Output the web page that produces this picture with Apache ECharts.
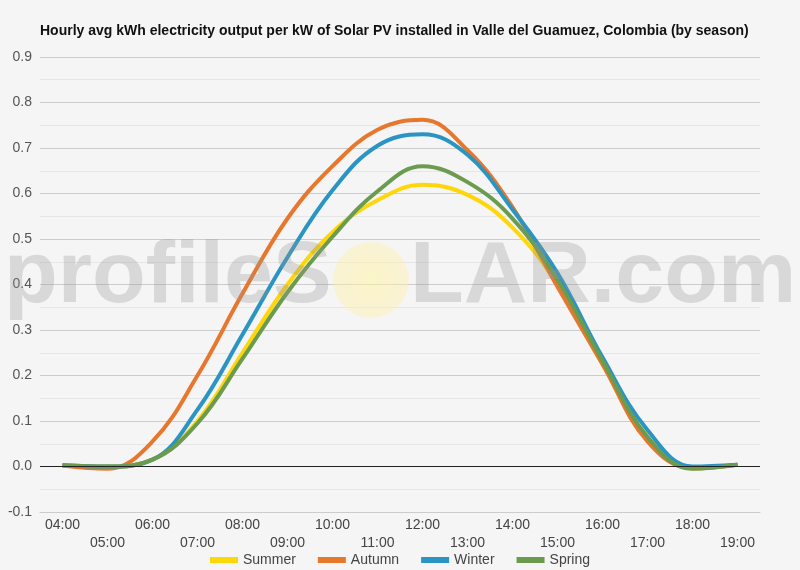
<!DOCTYPE html>
<html>
<head>
<meta charset="utf-8">
<script src="https://cdn.jsdelivr.net/npm/echarts@6/dist/echarts.min.js"></script>
<style>
  html, body { margin: 0; padding: 0; background: #f5f5f5; }
  #chart { width: 800px; height: 570px; }
</style>
</head>
<body>
<div id="chart"></div>
<script>
var hours = ["04:00", "05:00", "06:00", "07:00", "08:00", "09:00", "10:00", "11:00",
  "12:00", "13:00", "14:00", "15:00", "16:00", "17:00", "18:00", "19:00"];

var summer = [0.003, 0.0, 0.015, 0.1, 0.25, 0.40, 0.515, 0.585, 0.619, 0.597, 0.525, 0.40, 0.225, 0.065, -0.004, 0.004];
var autumn = [0.002, -0.005, 0.055, 0.2, 0.38, 0.545, 0.66, 0.74, 0.762, 0.695, 0.57, 0.395, 0.225, 0.055, -0.004, 0.004];
var winter = [0.003, 0.0, 0.015, 0.125, 0.29, 0.46, 0.607, 0.705, 0.73, 0.685, 0.565, 0.425, 0.24, 0.08, 0.0, 0.004];
var spring = [0.003, 0.0, 0.015, 0.095, 0.237, 0.383, 0.505, 0.605, 0.66, 0.625, 0.545, 0.41, 0.232, 0.065, -0.005, 0.004];

var yTicks = [-0.1, 0.9, 0.1]; // min, max, interval

var chart = echarts.init(document.getElementById("chart"));

function line(name, data, color) {
  return {
    name: name,
    type: "line",
    data: data,
    smooth: 0.4,
    symbol: "none",
    lineStyle: { width: 4, color: color },
    itemStyle: { color: color }
  };
}

var series = [
  line("Summer", summer, "#FFD60A"),
  line("Autumn", autumn, "#E8772E"),
  line("Winter", winter, "#2A94C2"),
  line("Spring", spring, "#6B9B4E")
];
// black line at zero
series[0].markLine = {
  silent: true,
  symbol: "none",
  label: { show: false },
  lineStyle: { color: "#222", width: 1, type: "solid" },
  data: [{ yAxis: 0 }]
};

var option = {
  backgroundColor: "#f5f5f5",
  animation: false,
  title: {
    text: "Hourly avg kWh electricity output per kW of Solar PV installed in Valle del Guamuez, Colombia (by season)",
    left: 35,
    top: 19,
    textStyle: { fontFamily: "Liberation Sans", fontSize: 14, fontWeight: "bold", color: "#111" }
  },
  legend: {
    top: 548,
    left: "center",
    itemWidth: 28,
    itemHeight: 6,
    itemGap: 22,
    icon: "rect",
    textStyle: { fontFamily: "Liberation Sans", fontSize: 14, color: "#444" },
    data: ["Summer", "Autumn", "Winter", "Spring"]
  },
  grid: { left: 40, right: 40, top: 57, bottom: 58 },
  xAxis: {
    type: "category",
    data: hours,
    boundaryGap: true,
    axisLine: { onZero: false, lineStyle: { color: "#ccc" } },
    axisTick: { show: false },
    axisLabel: {
      interval: 0,
      margin: 4,
      fontFamily: "Liberation Sans",
      fontSize: 14,
      color: "#444",
      lineHeight: 18,
      formatter: function (v, i) { return i % 2 === 1 ? "\n" + v : v; }
    }
  },
  yAxis: {
    type: "value",
    min: yTicks[0],
    max: yTicks[1],
    interval: yTicks[2],
    axisLine: { show: false },
    axisTick: { show: false },
    axisLabel: {
      fontFamily: "Liberation Sans",
      fontSize: 14,
      color: "#555",
      margin: 8,
      formatter: function (v) { return v.toFixed(1); }
    },
    splitLine: { lineStyle: { color: "#ccc" } },
    minorTick: { show: false, splitNumber: 2 },
    minorSplitLine: { show: true, lineStyle: { color: "#e6e6e6" } }
  },
  // watermark
  graphic: [
    {
      type: "text",
      left: 4,
      top: 234,
      z: 100,
      silent: true,
      style: { text: "profileS", fontFamily: "Liberation Sans", fontWeight: "bold", fontSize: 88, fill: "rgba(150,150,150,0.3)" }
    },
    {
      type: "circle",
      z: 99,
      silent: true,
      shape: { cx: 371, cy: 280, r: 38 },
      style: {
        fill: new echarts.graphic.RadialGradient(0.5, 0.5, 0.5, [
          { offset: 0, color: "rgba(255,245,170,0.6)" },
          { offset: 1, color: "rgba(255,238,165,0.4)" }
        ])
      }
    },
    {
      type: "text",
      left: 410,
      top: 234,
      z: 100,
      silent: true,
      style: { text: "LAR.com", fontFamily: "Liberation Sans", fontWeight: "bold", fontSize: 88, fill: "rgba(150,150,150,0.3)" }
    }
  ],
  series: series
};

chart.setOption(option);
</script>
</body>
</html>
